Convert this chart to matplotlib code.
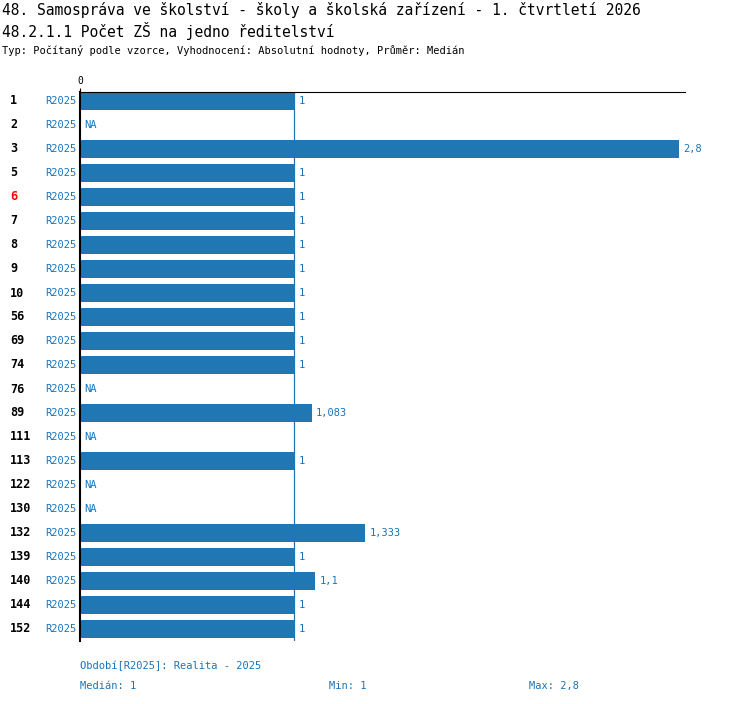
import matplotlib
matplotlib.use("Agg")
from matplotlib import pyplot as plt

# data
rows = ["1", "2", "3", "5", "6", "7", "8", "9", "10", "56", "69", "74", "76", "89",
        "111", "113", "122", "130", "132", "139", "140", "144", "152"]
values = [1, None, 2.8, 1, 1, 1, 1, 1, 1, 1, 1, 1, None, 1.083,
          None, 1, None, None, 1.333, 1, 1.1, 1, 1]
labels = ["1", "NA", "2,8", "1", "1", "1", "1", "1", "1", "1", "1", "1", "NA", "1,083",
          "NA", "1", "NA", "NA", "1,333", "1", "1,1", "1", "1"]
highlight = "6"
median = 1

W, H = 750, 704
blue = "#1f77b4"
txt_blue = "#1a74b8"
mono = "DejaVu Sans Mono"

fig = plt.figure(figsize=(W / 100, H / 100), dpi=100)
ax = fig.add_axes([80 / W, 1 - 641 / H, 605 / W, (641 - 92) / H])

ys = list(range(len(rows)))
for y, v, lab in zip(ys, values, labels):
    if v is not None:
        ax.barh(y, v, height=0.72, color=blue)
        ax.text(v + 0.02, y, lab, va="center", ha="left", color=txt_blue,
                fontsize=7.5, family=mono)
    else:
        ax.text(0.02, y, lab, va="center", ha="left", color=txt_blue,
                fontsize=7.5, family=mono)

ax.axvline(median, color=blue, lw=0.9)
ax.set_xlim(0, 605 / 214)
ax.set_ylim(22.5, -0.375)
for s in ["right", "bottom"]:
    ax.spines[s].set_visible(False)
ax.spines["left"].set_linewidth(1.5)
ax.spines["top"].set_linewidth(0.8)
ax.xaxis.tick_top()
ax.set_xticks([0])
ax.set_xticklabels(["0"], fontsize=7, family=mono)
ax.tick_params(axis="x", length=3, pad=1)
ax.set_yticks([])

for y, r in zip(ys, rows):
    yf = 1 - (101 + 24 * y) / H
    fig.text(10 / W, yf, r, va="center", ha="left", fontsize=8.5, fontweight="bold",
             family=mono, color="red" if r == highlight else "black")
    fig.text(77 / W, yf, "R2025", va="center", ha="right", fontsize=7.5,
             family=mono, color=txt_blue)

fig.text(2 / W, 1 - 10 / H, "48. Samospráva ve školství - školy a školská zařízení - 1. čtvrtletí 2026",
         va="center", ha="left", fontsize=10.5, family=mono)
fig.text(2 / W, 1 - 31 / H, "48.2.1.1 Počet ZŠ na jedno ředitelství",
         va="center", ha="left", fontsize=10.5, family=mono)
fig.text(2 / W, 1 - 50 / H, "Typ: Počítaný podle vzorce, Vyhodnocení: Absolutní hodnoty, Průměr: Medián",
         va="center", ha="left", fontsize=7.5, family=mono)

fig.text(80 / W, 1 - 666 / H, "Období[R2025]: Realita - 2025", va="center", ha="left",
         fontsize=7.5, family=mono, color=txt_blue)
fig.text(80 / W, 1 - 686 / H, "Medián: 1", va="center", ha="left",
         fontsize=7.5, family=mono, color=txt_blue)
fig.text(329 / W, 1 - 686 / H, "Min: 1", va="center", ha="left",
         fontsize=7.5, family=mono, color=txt_blue)
fig.text(529 / W, 1 - 686 / H, "Max: 2,8", va="center", ha="left",
         fontsize=7.5, family=mono, color=txt_blue)

fig.savefig("out.png", dpi=100)
